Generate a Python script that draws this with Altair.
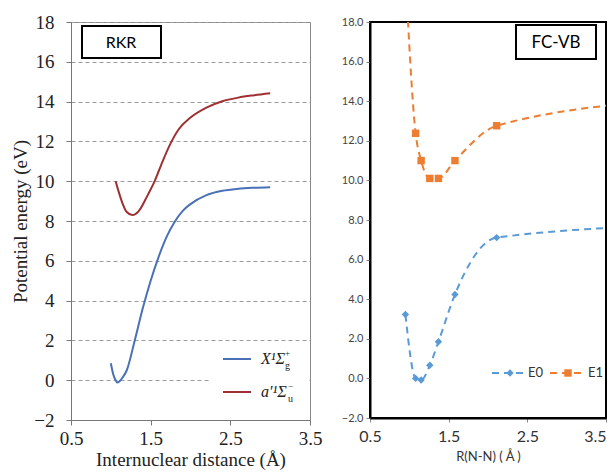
import altair as alt
import pandas as pd

# ---------------- Left panel (RKR) ----------------
x_r = [1.00, 1.03, 1.06, 1.08, 1.11, 1.15, 1.20, 1.30, 1.40, 1.50, 1.60, 1.70, 1.80, 1.90, 2.00, 2.20, 2.40, 2.60, 2.80, 3.00]
x_e = [0.85, 0.30, 0.00, -0.12, -0.05, 0.15, 0.50, 2.00, 3.60, 5.00, 6.20, 7.20, 7.95, 8.50, 8.85, 9.30, 9.52, 9.62, 9.67, 9.70]
a_r = [1.06, 1.10, 1.15, 1.20, 1.27, 1.35, 1.45, 1.55, 1.65, 1.75, 1.85, 2.00, 2.20, 2.40, 2.60, 2.80, 3.00]
a_e = [10.00, 9.45, 8.85, 8.45, 8.30, 8.50, 9.20, 10.00, 11.00, 11.90, 12.60, 13.20, 13.70, 14.02, 14.20, 14.32, 14.42]
rkr_states = ["X", "a"]
rkr_colors = ["#4a70b6", "#9e2f33"]

# ---------------- Right panel (FC-VB) ----------------
fc_r = [0.95, 1.08, 1.15, 1.26, 1.37, 1.58, 2.11, 4.50]
e0 = [3.23, 0.00, -0.08, 0.66, 1.85, 4.24, 7.11, 7.75]
e1 = [20.5, 12.38, 11.00, 10.10, 10.10, 11.00, 12.76, 14.10]
series = ["E0", "E1"]
fc_colors = ["#5b9bd5", "#ed7d31"]
fc_shapes = ["diamond", "square"]

y_ticks = list(range(-2, 19, 2))
x_ticks = [0.5, 1.5, 2.5, 3.5]

W1, H1 = 239, 398
W2, H2 = 236, 396

serif = "Liberation Serif"
sans = "Lato"

df_rkr = pd.concat([
    pd.DataFrame({"r": x_r, "e": x_e, "state": "X"}),
    pd.DataFrame({"r": a_r, "e": a_e, "state": "a"}),
])

xs1 = alt.Scale(domain=[0.5, 3.5], nice=False, zero=False)
ys = alt.Scale(domain=[-2, 18], nice=False, zero=False)

lines_rkr = alt.Chart(df_rkr).mark_line(strokeWidth=2, interpolate="monotone", clip=True).encode(
    x=alt.X("r:Q", scale=xs1, axis=alt.Axis(
        values=x_ticks, format=".1f", title="Internuclear distance (Å)", grid=False, labelFlush=False,
        labelFont=serif, labelFontSize=19, labelColor="#222", labelPadding=4,
        titleFont=serif, titleFontSize=19, titleFontWeight="normal", titleColor="#222", titlePadding=2,
        domainColor="#777", tickColor="#777", tickSize=5)),
    y=alt.Y("e:Q", scale=ys, axis=alt.Axis(
        values=y_ticks, title="Potential energy (eV)", grid=True, gridDash=[4, 3], gridColor="#9a9a9a",
        labelFont=serif, labelFontSize=19, labelColor="#222", labelPadding=12,
        titleFont=serif, titleFontSize=19, titleFontWeight="normal", titleColor="#222", titlePadding=3,
        domainColor="#777", tickColor="#777", tickSize=5)),
    color=alt.Color("state:N", scale=alt.Scale(domain=rkr_states, range=rkr_colors), legend=None),
    detail="state:N",
)

rkr_box = alt.Chart().mark_rect(fill="white", stroke="black", strokeWidth=2).encode(
    x=alt.value(11), x2=alt.value(90), y=alt.value(4), y2=alt.value(36))
rkr_text = alt.Chart().mark_text(text="RKR", font=sans, fontSize=16, color="black").encode(
    x=alt.value(50), y=alt.value(21))

leg_bg = alt.Chart().mark_rect(fill="white").encode(
    x=alt.value(138), x2=alt.value(238), y=alt.value(325), y2=alt.value(388))
leg_l1 = alt.Chart().mark_rule(color=rkr_colors[0], strokeWidth=2).encode(
    x=alt.value(152), x2=alt.value(180), y=alt.value(337))
leg_l2 = alt.Chart().mark_rule(color=rkr_colors[1], strokeWidth=2).encode(
    x=alt.value(152), x2=alt.value(180), y=alt.value(370))
leg_t1 = alt.Chart().mark_text(text="X\u00b9\u03a3", font=serif, fontSize=16, fontStyle="italic",
                               align="left", baseline="middle", color="#222").encode(
    x=alt.value(190), y=alt.value(337))
leg_t1s = alt.Chart().mark_text(text="+", font=serif, fontSize=9, align="left", baseline="middle", color="#222").encode(
    x=alt.value(214), y=alt.value(331))
leg_t1b = alt.Chart().mark_text(text="g", font=serif, fontSize=10, align="left", baseline="middle", color="#222").encode(
    x=alt.value(214), y=alt.value(344))
leg_t2 = alt.Chart().mark_text(text="a\u2032\u00b9\u03a3", font=serif, fontSize=16, fontStyle="italic",
                               align="left", baseline="middle", color="#222").encode(
    x=alt.value(190), y=alt.value(370))
leg_t2s = alt.Chart().mark_text(text="\u2212", font=serif, fontSize=9, align="left", baseline="middle", color="#222").encode(
    x=alt.value(217), y=alt.value(364))
leg_t2b = alt.Chart().mark_text(text="u", font=serif, fontSize=10, align="left", baseline="middle", color="#222").encode(
    x=alt.value(217), y=alt.value(377))

left = alt.layer(
    lines_rkr, rkr_box, rkr_text, leg_bg, leg_l1, leg_l2,
    leg_t1, leg_t1s, leg_t1b, leg_t2, leg_t2s, leg_t2b,
).properties(width=W1, height=H1, view=alt.ViewBackground(stroke="#888", strokeWidth=1))

# ---------------- Right panel ----------------
df_fc = pd.concat([
    pd.DataFrame({"r": fc_r, "e": e0, "s": "E0"}),
    pd.DataFrame({"r": fc_r, "e": e1, "s": "E1"}),
])

xs2 = alt.Scale(domain=[0.5, 3.5], nice=False, zero=False)

base_fc = alt.Chart(df_fc).encode(
    x=alt.X("r:Q", scale=xs2, axis=alt.Axis(
        values=x_ticks, format=".1f", title="R(N-N) ( Å )", grid=False, labelFlush=False,
        labelAlign={"condition": {"test": "datum.value >= 3.4", "value": "right"}, "value": "center"},
        labelFont=sans, labelFontSize=16, labelColor="#333", labelPadding=6,
        titleFont=sans, titleFontSize=13, titleFontWeight="normal", titleColor="#333", titlePadding=6,
        domainColor="black", domainWidth=2, tickColor="#888", tickSize=4)),
    y=alt.Y("e:Q", scale=ys, axis=alt.Axis(
        values=y_ticks, format=".1f", title=None, grid=False,
        labelFont=sans, labelFontSize=11, labelColor="#444", labelPadding=3,
        domainColor="black", domainWidth=2, tickColor="#888", tickSize=4)),
    color=alt.Color("s:N", scale=alt.Scale(domain=series, range=fc_colors), legend=None),
)
fc_lines = base_fc.mark_line(strokeWidth=2, strokeDash=[7, 5], interpolate="monotone", clip=True).encode(detail="s:N")
fc_pts = base_fc.mark_point(filled=True, size=55, opacity=1, clip=True).encode(
    shape=alt.Shape("s:N", scale=alt.Scale(domain=series, range=fc_shapes), legend=None))

fc_box = alt.Chart().mark_rect(fill="white", stroke="black", strokeWidth=2).encode(
    x=alt.value(146), x2=alt.value(226), y=alt.value(3), y2=alt.value(37))
fc_text = alt.Chart().mark_text(text="FC-VB", font=sans, fontSize=17, color="black").encode(
    x=alt.value(186), y=alt.value(21))

lg = []
for (xa, xb, xm, xt, col, shp, lab) in [
    (122, 155, 140, 158, fc_colors[0], "diamond", "E0"),
    (180, 213, 198, 218, fc_colors[1], "square", "E1"),
]:
    lg.append(alt.Chart().mark_rule(color=col, strokeWidth=2, strokeDash=[7, 5]).encode(
        x=alt.value(xa), x2=alt.value(xb), y=alt.value(351)))
    lg.append(alt.Chart().mark_point(shape=shp, filled=True, size=55, color=col, opacity=1).encode(
        x=alt.value(xm), y=alt.value(351)))
    lg.append(alt.Chart().mark_text(text=lab, font=sans, fontSize=13, color="#333", align="left",
                                    baseline="middle").encode(x=alt.value(xt), y=alt.value(351)))

right = alt.layer(fc_lines, fc_pts, fc_box, fc_text, *lg).properties(
    width=W2, height=H2, view=alt.ViewBackground(stroke="black", strokeWidth=2))

chart = alt.hconcat(left, right, spacing=17).resolve_scale(
    color="independent", shape="independent", x="independent", y="independent"
).properties(
    padding={"left": 3, "top": 4, "right": 0, "bottom": 0}
).configure_view(stroke=None)

chart.save("out.html", embed_options={"renderer": "svg", "actions": False})
